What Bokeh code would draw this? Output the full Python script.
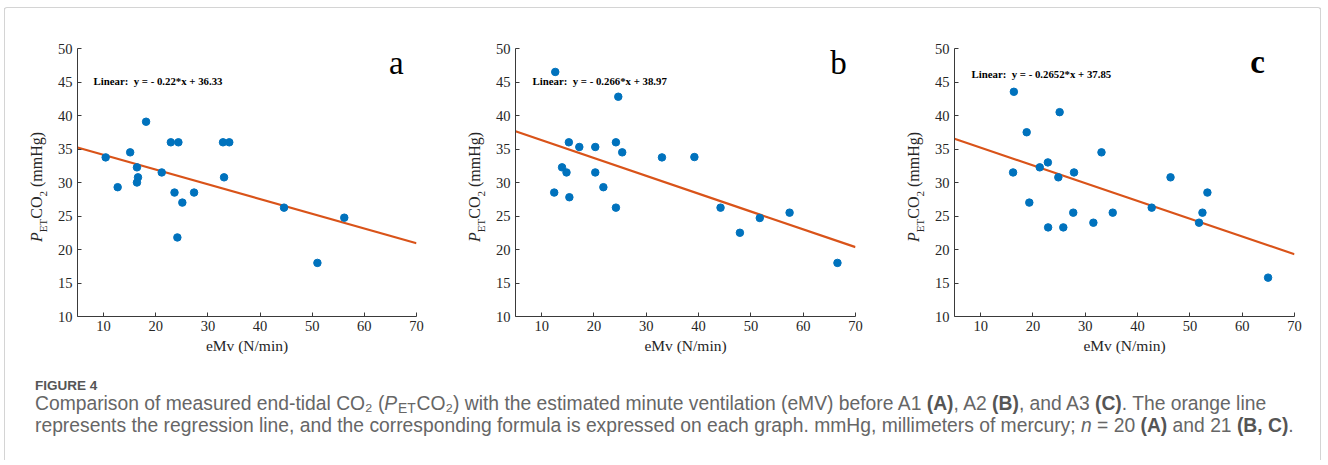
from bokeh.plotting import figure
from bokeh.models import Range1d, FixedTicker, Label, Div
from bokeh.layouts import row, column
from bokeh.embed import file_html
from bokeh.resources import INLINE

# ---------------- data ----------------
x_ticks = [10, 20, 30, 40, 50, 60, 70]
y_ticks = [10, 15, 20, 25, 30, 35, 40, 45, 50]

a_x = [10.4, 12.7, 15.1, 18.15, 16.4, 16.6, 16.4, 21.15, 22.9, 24.35,
       23.6, 25.1, 24.15, 27.35, 32.9, 34.1, 33.1, 44.6, 51.0, 56.15]
a_y = [33.75, 29.3, 34.5, 39.07, 32.26, 30.77, 30.0, 31.5, 36.0, 36.0,
       28.5, 27.0, 21.8, 28.5, 36.0, 36.0, 30.77, 26.25, 18.0, 24.75]

b_x = [12.6, 24.65, 15.2, 17.2, 20.25, 24.2, 25.4, 13.9, 14.75, 20.25,
       21.8, 12.4, 15.3, 24.2, 33.0, 39.2, 44.2, 47.9, 51.7, 57.4, 66.55]
b_y = [46.5, 42.8, 36.0, 35.3, 35.3, 36.0, 34.5, 32.26, 31.5, 31.5,
       29.3, 28.5, 27.8, 26.25, 33.75, 33.8, 26.25, 22.5, 24.7, 25.5, 18.0]

c_x = [16.35, 25.1, 18.8, 33.1, 22.85, 21.3, 16.2, 27.85, 24.85, 46.3,
       53.35, 19.3, 27.7, 35.25, 52.4, 42.7, 51.75, 31.55, 22.9, 25.8, 64.95]
c_y = [43.54, 40.5, 37.5, 34.5, 33.0, 32.26, 31.5, 31.5, 30.77, 30.77,
       28.5, 27.0, 25.5, 25.5, 25.5, 26.25, 24.0, 24.0, 23.3, 23.3, 15.8]

slopes = [-0.22, -0.266, -0.2652]
intercepts = [36.33, 38.97, 37.85]
equations = ["Linear:\u00a0\u00a0y = - 0.22*x + 36.33",
             "Linear:\u00a0\u00a0y = - 0.266*x + 38.97",
             "Linear:\u00a0\u00a0y = - 0.2652*x + 37.85"]
letters = ["a", "b", "c"]
x_label = "eMv (N/min)"
y_label_html = "<i>P</i><sub>ET</sub>CO<sub>2</sub> (mmHg)"

X_MIN, X_MAX = 5, 70
Y_MIN, Y_MAX = 10, 50

SERIF = "Liberation Serif"
BORDER = "#d4d4d4"
TOTAL_W = 1328
TOP_H = 8
FIG_H = 352
CAP_H = 100
B_TOP, B_BOT = 40, 44
FRAME_H = FIG_H - B_TOP - B_BOT


def make_panel(xs, ys, slope, icpt, eq, letter, width, bl, br,
               eq_fx, eq_fy, let_fx, let_fy, let_bold):
    p = figure(width=width, height=FIG_H,
               x_range=Range1d(X_MIN, X_MAX), y_range=Range1d(Y_MIN, Y_MAX),
               output_backend="svg", toolbar_location=None,
               min_border_left=bl, min_border_right=br,
               min_border_top=B_TOP, min_border_bottom=B_BOT)
    p.grid.visible = False
    p.outline_line_color = None

    fw = width - bl - br

    def dx(fx):
        return X_MIN + fx * (X_MAX - X_MIN) / fw

    def dy(fy):
        return Y_MAX - fy * (Y_MAX - Y_MIN) / FRAME_H

    p.axis.axis_line_color = "#3a3a3a"
    p.axis.major_tick_line_color = "#3a3a3a"
    p.axis.major_tick_in = 4
    p.axis.major_tick_out = 0
    p.axis.minor_tick_line_color = None
    p.axis.major_label_text_font = SERIF
    p.axis.major_label_text_font_size = "14.5px"
    p.axis.major_label_text_color = "#262626"
    p.xaxis.ticker = FixedTicker(ticks=x_ticks)
    p.yaxis.ticker = FixedTicker(ticks=y_ticks)
    p.xaxis.major_label_standoff = 4
    p.yaxis.major_label_standoff = 5
    p.xaxis.axis_label = x_label
    p.xaxis.axis_label_text_font = SERIF
    p.xaxis.axis_label_text_font_style = "normal"
    p.xaxis.axis_label_text_font_size = "15.5px"
    p.xaxis.axis_label_text_color = "#262626"
    p.xaxis.axis_label_standoff = 3

    # regression line
    lx = [X_MIN, X_MAX]
    ly = [slope * v + icpt for v in lx]
    p.line(lx, ly, line_color="#D95319", line_width=2.2)
    # data points
    p.scatter(xs, ys, size=7.5, fill_color="#0072BD", line_color="#0072BD")

    # equation text
    p.add_layout(Label(x=dx(eq_fx), y=dy(eq_fy), text=eq,
                       text_font=SERIF, text_font_style="bold",
                       text_font_size="10.8px", text_color="black",
                       text_baseline="middle", text_align="left"))
    # panel letter
    p.add_layout(Label(x=dx(let_fx), y=dy(let_fy), text=letter,
                       text_font=SERIF,
                       text_font_style="bold" if let_bold else "normal",
                       text_font_size="33px", text_color="black",
                       text_baseline="alphabetic", text_align="center"))
    return p


def make_ylabel(width, baseline_x, with_border=False):
    """Narrow strip holding the rotated y label P_ET CO_2 (mmHg)."""
    fs = 16.0
    lh = 1.107 * fs
    left = baseline_x - 0.891 * fs
    start_y = 234.3  # where the label begins (its bottom end)
    border = ""
    if with_border:
        border = (f'<div style="position:absolute; left:4px; top:0px; width:1px; '
                  f'height:{FIG_H}px; background:{BORDER};"></div>')
    html = f"""
<div style="position:relative; width:{width}px; height:{FIG_H}px;">
  {border}
  <div style="position:absolute; left:{left:.2f}px; top:{start_y}px; transform-origin:0 0;
       transform:rotate(-90deg); white-space:nowrap; font-family:'{SERIF}';
       font-size:{fs}px; line-height:{lh:.2f}px; color:#262626;">
    <style>sub {{ font-size:11px; vertical-align:-4.7px; line-height:0; }}</style>
    {y_label_html}
  </div>
</div>"""
    return Div(text=html, width=width, height=FIG_H, margin=0)


def make_right_strip(width):
    html = f"""
<div style="position:relative; width:{width}px; height:{FIG_H}px;">
  <div style="position:absolute; left:{width - 8}px; top:0px; width:1px; height:{FIG_H}px; background:{BORDER};"></div>
</div>"""
    return Div(text=html, width=width, height=FIG_H, margin=0)


ya = make_ylabel(52, 42, with_border=True)
pa = make_panel(a_x, a_y, slopes[0], intercepts[0], equations[0], letters[0],
                396, 25, 32, 16, 32.7, 318.7, 14.7, False)
yb = make_ylabel(42, 32)
pb = make_panel(b_x, b_y, slopes[1], intercepts[1], equations[1], letters[1],
                398, 25, 33, 17, 32.7, 323, 14.3, False)
yc = make_ylabel(42, 31)
pc = make_panel(c_x, c_y, slopes[2], intercepts[2], equations[2], letters[2],
                382, 24, 18, 17, 25.7, 303, 13.7, True)
rs = make_right_strip(TOTAL_W - 1312)

top_html = f"""
<div style="position:relative; width:{TOTAL_W}px; height:{TOP_H}px; overflow:hidden;">
  <div style="position:absolute; left:4px; top:3px; width:1317px; height:5px;
       border-top:1px solid {BORDER}; border-left:1px solid {BORDER}; border-right:1px solid {BORDER};
       border-top-left-radius:3px; border-top-right-radius:3px; box-sizing:border-box;"></div>
</div>"""
top = Div(text=top_html, width=TOTAL_W, height=TOP_H, margin=0)

caption_html = f"""
<div style="position:relative; width:{TOTAL_W}px; height:{CAP_H}px; font-family:'Liberation Sans'; white-space:nowrap;">
  <style>
    sub.s {{ font-size: 0.72em; vertical-align: -0.28em; line-height: 0; margin-left: 0.06em; margin-right: 0.06em; }}
    b.k {{ font-weight: 700; color: #555; }}
  </style>
  <div style="position:absolute; left:4px; top:0px; width:1px; height:{CAP_H}px; background:{BORDER};"></div>
  <div style="position:absolute; left:1320px; top:0px; width:1px; height:{CAP_H}px; background:{BORDER};"></div>
  <div style="position:absolute; left:35px; top:18.5px; font-size:13.5px; line-height:13px; font-weight:700; color:#555;">FIGURE 4</div>
  <div style="position:absolute; left:35px; top:32.6px; font-size:19.3px; line-height:22px; color:#666;">Comparison of measured end-tidal CO\u2082 (<i>P</i><sub class="s">ET</sub>CO\u2082) with the estimated minute ventilation (eMV) before A1 <b class="k">(A)</b>, A2 <b class="k">(B)</b>, and A3 <b class="k">(C)</b>. The orange line<br>represents the regression line, and the corresponding formula is expressed on each graph. mmHg, millimeters of mercury; <i>n</i> = 20 <b class="k">(A)</b> and 21 <b class="k">(B, C)</b>.</div>
</div>
"""
cap = Div(text=caption_html, width=TOTAL_W, height=CAP_H, margin=0)

layout = column(top, row(ya, pa, yb, pb, yc, pc, rs), cap)

open("out.html", "w").write(file_html(layout, INLINE))
